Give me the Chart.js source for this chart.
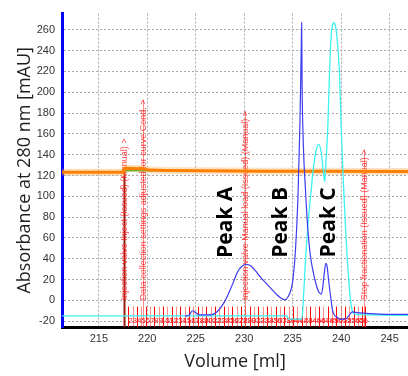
<!DOCTYPE html>
<html>
<head>
<meta charset="utf-8">
<script src="https://cdn.jsdelivr.net/npm/chart.js@4.4.1/dist/chart.umd.min.js"></script>
<style>
  html, body { margin: 0; padding: 0; background: #fff; }
  canvas { display: block; }
</style>
</head>
<body>
<canvas id="run-chart" width="408" height="376"></canvas>
<script>
// UV 280 nm trace
const uvVolume = [223.9, 224.3, 224.65, 224.95, 225.4, 226.3, 226.9, 227.3, 227.65, 228.05, 228.5, 228.9, 229.35, 229.8, 230.2, 230.7, 231.2, 231.7, 232.3, 232.8, 233.3, 233.8, 234.2, 234.5, 234.75, 235.0, 235.3, 235.55, 235.75, 235.88, 235.93, 235.97, 236.1, 236.3, 236.55, 236.8, 237.1, 237.4, 237.7, 237.95, 238.1, 238.25, 238.42, 238.55, 238.7, 238.9, 239.1, 239.3, 239.55, 239.85, 240.2, 240.55, 240.85, 241.15, 241.5, 242.0, 242.6, 243.6, 245.0, 246.9];
const uvValues = [-15, -14.5, -10, -11.5, -14, -14, -13, -10, -6, 0, 9, 18, 28, 33, 34.5, 33, 28, 22, 16, 11, 6, 2, 0.5, 3, 8, 18, 50, 100, 170, 240, 267, 210, 150, 110, 70, 45, 28, 16, 8, 6, 12, 25, 35.5, 33, 20, 5, -9, -14, -16, -18, -18, -17.5, -14, -11, -11.5, -12, -12.5, -13, -13.5, -13.5];

// second UV wavelength
const uv2Volume = [211.2, 234.4, 234.6, 235.95, 236.1, 236.3, 236.55, 236.85, 237.15, 237.45, 237.7, 237.95, 238.15, 238.3, 238.45, 238.63, 238.8, 238.98, 239.1, 239.25, 239.4, 239.55, 239.83, 240.0, 240.2, 240.4, 240.6, 240.85, 241.05, 241.25, 241.5, 243.0, 246.9];
const uv2Values = [-15, -15, -18, -18, 0, 35, 70, 100, 128, 145, 150, 142, 125, 114, 135, 168, 218, 255, 264, 267, 264, 255, 218, 168, 120, 80, 45, 12, -6, -12, -13.5, -14, -14.5];

// conductivity and concentration traces
const condVolume = [211.2, 217.5, 217.7, 219.5, 220.2, 222, 226, 232, 238, 246.9];
const condValues = [123.2, 123.2, 127, 126.6, 125.2, 124.8, 124.5, 124.2, 124, 123.8];
const concVolume = [217.6, 246.9];
const concValues = [124.6, 124.6];

// fraction start volumes, fraction 1 .. 56, then the stop point
const fractionStarts = [217.60, 218.05, 218.49, 218.94, 219.39, 219.84, 220.28, 220.73, 221.18, 221.62, 222.07, 222.52, 222.96, 223.41, 223.86, 224.31, 224.75, 225.20, 225.65, 226.09, 226.54, 226.99, 227.43, 227.88, 228.33, 228.78, 229.22, 229.67, 230.12, 230.56, 231.01, 231.46, 231.90, 232.35, 232.80, 233.25, 233.69, 234.14, 234.59, 235.03, 235.48, 235.93, 236.37, 236.82, 237.27, 237.72, 238.16, 238.61, 239.06, 239.50, 239.95, 240.40, 240.84, 241.29, 241.74, 242.19];
const fractionEnd = 242.45;

// run log events
const eventVolumes = [217.6, 219.55, 230.1, 242.4];
const eventTexts = [
  'Injection valve Inject (Issued) (Manual) >',
  'Data collection settings adjusted for curve Cond. >',
  'Injection valve Manual load (Issued) (Manual) >',
  'Stop fractionation (Issued) (Manual) >'
];

const peakNames = ['Peak A', 'Peak B', 'Peak C'];
const peakVolumes = [228.1, 233.8, 238.75];

const xTicks = [215, 220, 225, 230, 235, 240, 245];
const yTicks = [-20, 0, 20, 40, 60, 80, 100, 120, 140, 160, 180, 200, 220, 240, 260];

function pts(xs, ys) {
  return xs.map((v, i) => ({ x: v, y: ys[i] }));
}

const markers = {
  id: 'runMarkers',
  beforeDatasetsDraw(chart) {
    const { ctx, chartArea: a, scales: { x, y } } = chart;
    ctx.save();
    ctx.beginPath();
    ctx.rect(a.left, a.top, a.right - a.left, a.bottom - a.top);
    ctx.clip();

    // fraction boundaries
    const top = y.getPixelForValue(-6);
    fractionStarts.forEach((v, i) => {
      if (i === 0) return;
      const px = Math.round(x.getPixelForValue(v)) + 0.5;
      ctx.strokeStyle = i % 2 ? '#ff0000' : 'rgba(255,0,0,0.45)';
      ctx.lineWidth = 1;
      ctx.beginPath();
      ctx.moveTo(px, top);
      ctx.lineTo(px, a.bottom);
      ctx.stroke();
    });
    const endPx = Math.round(x.getPixelForValue(fractionEnd)) + 0.5;
    ctx.strokeStyle = '#ff0000';
    ctx.beginPath();
    ctx.moveTo(endPx, top);
    ctx.lineTo(endPx, a.bottom);
    ctx.stroke();

    // fraction numbers
    ctx.font = '8px "Liberation Sans", Arial, sans-serif';
    ctx.fillStyle = '#ff2020';
    ctx.textAlign = 'center';
    ctx.textBaseline = 'middle';
    const ny = y.getPixelForValue(-19.5);
    fractionStarts.forEach((v, i) => {
      if (i === 0) return;
      const next = i + 1 < fractionStarts.length ? fractionStarts[i + 1] : fractionEnd;
      const cx = (x.getPixelForValue(v) + x.getPixelForValue(next)) / 2;
      ctx.fillText(String(i + 1), cx, ny);
    });

    // event lines and their log text
    eventVolumes.forEach((v, i) => {
      const px = Math.round(x.getPixelForValue(v)) + 0.5;
      const base = y.getPixelForValue(0);
      ctx.font = '9px "Liberation Sans", Arial, sans-serif';
      const len = ctx.measureText(eventTexts[i]).width;
      ctx.lineWidth = i === 0 ? 2 : 1;
      ctx.strokeStyle = i === 0 ? '#9a1c10' : 'rgba(255,40,40,0.55)';
      ctx.beginPath();
      ctx.moveTo(px, i === 0 ? y.getPixelForValue(128) : base - len);
      ctx.lineTo(px, a.bottom);
      ctx.stroke();

      ctx.save();
      ctx.translate(px, base);
      ctx.rotate(-Math.PI / 2);
      ctx.textAlign = 'left';
      ctx.textBaseline = 'middle';
      ctx.fillStyle = 'rgba(255,30,30,0.85)';
      ctx.fillText(eventTexts[i], 0, 0);
      ctx.restore();
    });
    ctx.restore();
  },
  afterDatasetsDraw(chart) {
    const { ctx, scales: { x, y } } = chart;
    ctx.save();
    ctx.font = 'bold 21px "Open Sans", Arial, sans-serif';
    ctx.fillStyle = '#000';
    ctx.textAlign = 'center';
    ctx.textBaseline = 'middle';
    peakNames.forEach((name, i) => {
      ctx.save();
      ctx.translate(x.getPixelForValue(peakVolumes[i]), y.getPixelForValue(75));
      ctx.rotate(-Math.PI / 2);
      ctx.fillText(name, 0, 0);
      ctx.restore();
    });
    ctx.restore();
  }
};

const tickFont = { family: '"Liberation Sans", Arial, sans-serif', size: 11 };
const titleFont = { family: '"Open Sans", sans-serif', size: 18 };
const gridStyle = { color: '#a8a8a8', lineWidth: 1, drawTicks: false };

new Chart(document.getElementById('run-chart'), {
  type: 'line',
  data: {
    datasets: [
      {
        data: pts(uvVolume, uvValues),
        borderColor: '#3c3cf0',
        borderWidth: 1.2,
        cubicInterpolationMode: 'monotone'
      },
      {
        data: pts(uv2Volume, uv2Values),
        borderColor: '#3cf2f2',
        borderWidth: 1.3,
        cubicInterpolationMode: 'monotone'
      },
      {
        data: pts(condVolume, condValues),
        borderColor: '#ff8000',
        borderWidth: 3
      },
      {
        data: pts(condVolume, condValues),
        borderColor: 'rgba(255,170,80,0.35)',
        borderWidth: 7
      },
      {
        data: pts(concVolume, concValues),
        borderColor: '#2cb82c',
        borderWidth: 1.5
      }
    ]
  },
  options: {
    responsive: false,
    animation: false,
    devicePixelRatio: 1,
    layout: { padding: { top: 5, right: 0, bottom: 0, left: 0 } },
    elements: { point: { radius: 0 }, line: { fill: false } },
    plugins: { legend: { display: false }, tooltip: { enabled: false } },
    scales: {
      x: {
        type: 'linear',
        min: 211.2,
        max: 246.9,
        afterBuildTicks: s => { s.ticks = xTicks.map(v => ({ value: v })); },
        afterFit: s => { s.height = 49; },
        grid: gridStyle,
        border: { color: '#000', width: 3, dash: [2, 2] },
        ticks: { font: tickFont, color: '#333', padding: 5 },
        title: { display: true, text: 'Volume [ml]', font: titleFont, color: '#1e1e1e', padding: { top: 0, bottom: 3 } }
      },
      y: {
        min: -25.6,
        max: 275.6,
        afterBuildTicks: s => { s.ticks = yTicks.map(v => ({ value: v })); },
        afterFit: s => { s.width = 62; },
        grid: gridStyle,
        border: { color: '#0000ff', width: 3, dash: [2, 2] },
        ticks: { font: tickFont, color: '#333', padding: 7 },
        title: { display: true, text: 'Absorbance at 280 nm [mAU]', font: titleFont, color: '#1e1e1e', padding: { top: 14, bottom: 0 } }
      }
    }
  },
  plugins: [markers]
});
</script>
</body>
</html>
